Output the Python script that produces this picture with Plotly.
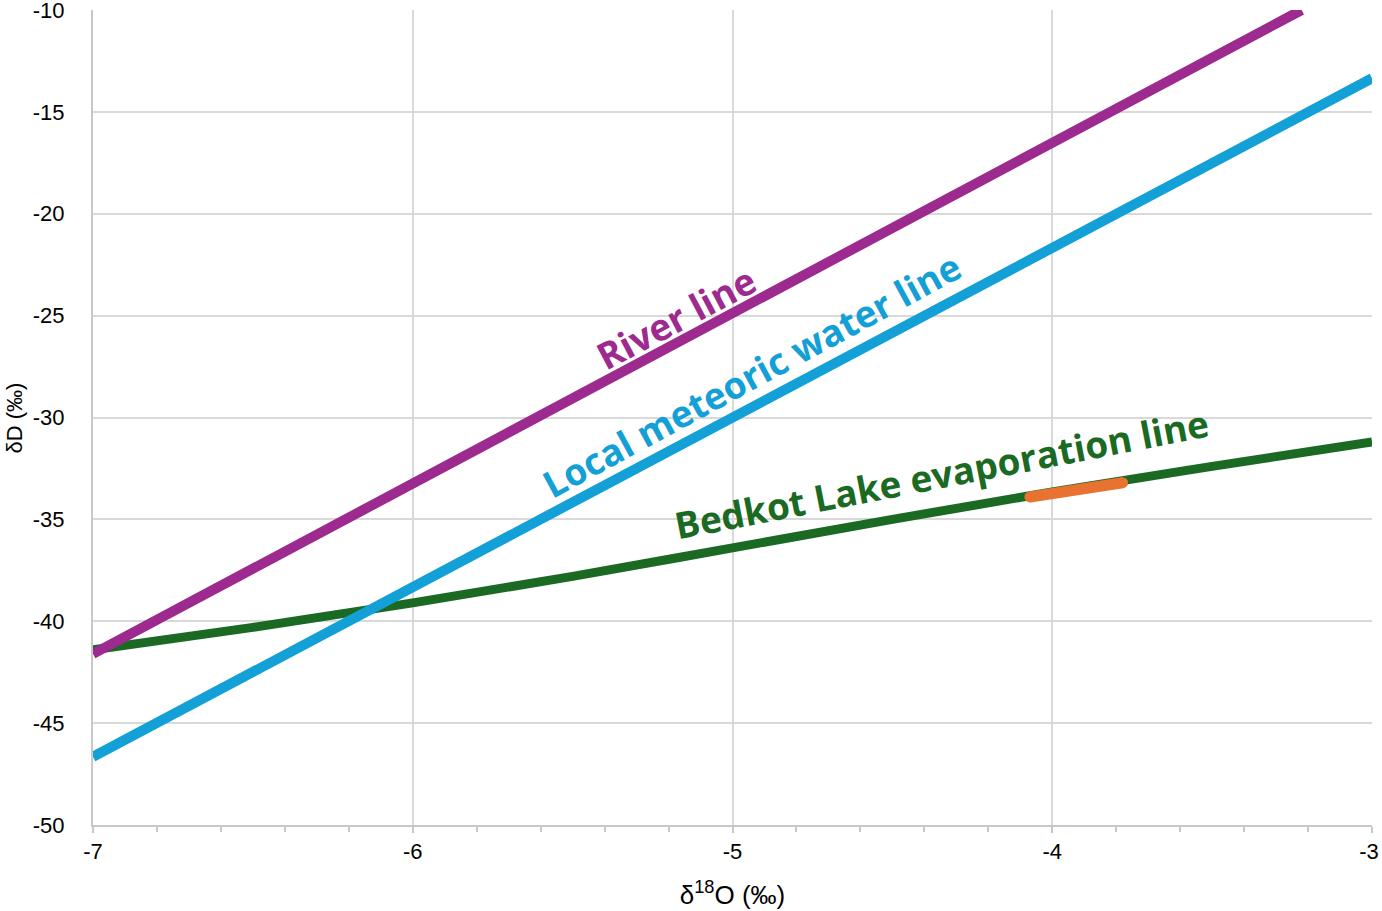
import plotly.graph_objects as go

# values (d18O vs dD, permil)
river_x = [-7, -3.22]
river_y = [-41.6, -10]

lmwl_x = [-7, -3]
lmwl_y = [-46.65, -13.35]

evap_x = [-7, -6.5, -6, -5.5, -5, -4.5, -4, -3.5, -3]
evap_y = [-41.4, -40.3, -39.1, -37.8, -36.4, -35.0, -33.65, -32.4, -31.2]

lake_x = [-4.07, -3.78]
lake_y = [-33.9, -33.2]

x_ticks = [-7, -6, -5, -4, -3]
y_ticks = [-50, -45, -40, -35, -30, -25, -20, -15, -10]

purple = "#9c2a8f"
blue = "#12a0d7"
green = "#1b6a23"
orange = "#e8722f"

fig = go.Figure()
fig.add_trace(go.Scatter(x=evap_x, y=evap_y, mode="lines",
                         line=dict(color=green, width=9, shape="spline")))
fig.add_trace(go.Scatter(x=lmwl_x, y=lmwl_y, mode="lines",
                         line=dict(color=blue, width=10)))
fig.add_trace(go.Scatter(x=river_x, y=river_y, mode="lines",
                         line=dict(color=purple, width=10)))
# orange bit with rounded ends
fig.add_trace(go.Scatter(x=lake_x, y=lake_y, mode="lines+markers",
                         line=dict(color=orange, width=11),
                         marker=dict(color=orange, size=11)))

label_font = "Open Sans"
labels = [
    ("River line", -5.177, -25.1, -28, purple),
    ("Local meteoric water line", -4.94, -27.9, -28.5, blue),
    ("Bedkot Lake evaporation line", -4.345, -32.75, -11, green),
]
for text, x, y, ang, col in labels:
    fig.add_annotation(x=x, y=y, xref="x", yref="y", text="<b>%s</b>" % text,
                       showarrow=False, textangle=ang,
                       font=dict(family=label_font, size=37, color=col))

# y title as annotation so it can sit right up against the tick labels
fig.add_annotation(x=-0.061, y=0.5, xref="paper", yref="paper", text="δD (‰)",
                   showarrow=False, textangle=-90, xanchor="center", yanchor="middle",
                   font=dict(size=22, color="black"))

# the last x label sits at the window edge, nudge it left a little
x_text = [str(v) for v in x_ticks]
x_text[-1] = x_text[-1] + "\u00a0"

fig.update_layout(
    width=1382, height=911,
    margin=dict(l=93, r=10, t=10, b=86),
    plot_bgcolor="white", paper_bgcolor="white",
    showlegend=False,
    font=dict(family="Liberation Sans, Arial", size=22, color="black"),
)
fig.update_xaxes(
    range=[-7, -3], tickvals=x_ticks, ticktext=x_text,
    automargin=False, ticklabeloverflow="allow",
    showgrid=True, gridcolor="#d9d9d9", gridwidth=2,
    showline=True, linecolor="#c8c8c8", linewidth=2,
    ticks="outside", ticklen=6, tickcolor="#c8c8c8", tickwidth=2,
    minor=dict(dtick=0.2, ticks="outside", ticklen=5, tickcolor="#c8c8c8", tickwidth=2, showgrid=False),
    zeroline=False,
    title=dict(text="δ<sup>18</sup>O (‰)", standoff=22),
)
fig.update_yaxes(
    range=[-50, -10], tickvals=y_ticks, ticktext=[str(v) for v in y_ticks],
    automargin=False, ticklabeloverflow="allow",
    showgrid=True, gridcolor="#d9d9d9", gridwidth=2,
    showline=True, linecolor="#c8c8c8", linewidth=2,
    ticks="", ticklabelstandoff=22,
    zeroline=False,
)

# drop the default 8px body margin so the figure fills the window exactly
fig.write_html("out.html", config={"displayModeBar": False},
               post_script="document.body.style.margin='0';")
